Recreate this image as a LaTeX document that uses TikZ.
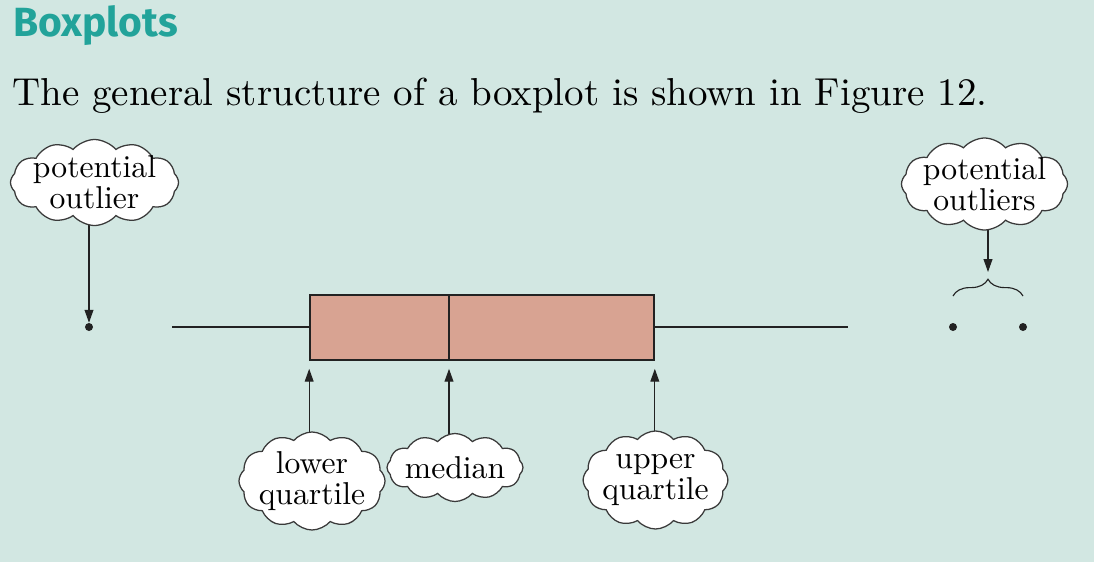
\documentclass[tikz,border=0pt]{standalone}
\usepackage{fontspec}
\setmainfont{lmroman10-regular}[Extension=.otf]
\newfontfamily\titlefont{Fira Sans}
\usetikzlibrary{shapes.symbols,arrows.meta,decorations.pathreplacing}
\definecolor{bgc}{HTML}{D2E7E2}
\definecolor{titlec}{HTML}{22A39A}
\definecolor{boxc}{HTML}{D8A392}
\definecolor{inkc}{HTML}{222222}
\definecolor{cloudline}{HTML}{3A3A3A}
\pgfdeclarelayer{bglayer}
\pgfdeclarelayer{linelayer}
\pgfsetlayers{bglayer,linelayer,main}
\begin{document}
\begin{tikzpicture}[x=0.025cm,y=-0.025cm,
  callout/.style={cloud, cloud puffs=12, cloud puff arc=100, cloud ignores aspect, draw=cloudline, fill=white,
    line width=0.9pt, align=center, inner xsep=-20pt, inner ysep=-5pt,
    font=\fontsize{22.5}{22}\selectfont},
  arr/.style={draw=inkc, line width=0.8pt, -{Triangle[length=0.32cm,width=0.22cm]}},
  whisk/.style={draw=inkc, line width=1.1pt},
  boxst/.style={draw=inkc, fill=boxc, line width=1.1pt, inner sep=0pt},
  dotst/.style={circle, fill=inkc, inner sep=0pt, minimum size=0.2cm}]
\begin{pgfonlayer}{bglayer}
\fill[bgc] (0,0) rectangle (1094,562);
\end{pgfonlayer}
\useasboundingbox (0,0) rectangle (1094,562);
\node[anchor=base west, inner sep=0pt, text=titlec, font=\titlefont\bfseries\fontsize{29}{34}\selectfont] (title) at (13,36) {Boxplots};
\node[anchor=base west, inner sep=0pt, font=\fontsize{27.7}{34}\selectfont] (intro) at (12,105) {The general structure of a boxplot is shown in Figure 12.};
% box
\node[boxst, minimum width=8.6cm, minimum height=1.625cm] (box) at (482,327.5) {};
\coordinate (medx) at (449,327);
\draw[whisk] (box.north -| medx) -- (box.south -| medx);
\coordinate (wl) at (172,327);
\coordinate (wr) at (848,327);
\draw[whisk] (wl) -- (box.west |- wl);
\draw[whisk] (box.east |- wr) -- (wr);
% outliers
\node[dotst] (o1) at (89,327) {};
\node[dotst] (o2) at (953,327) {};
\node[dotst] (o3) at (1023,327) {};
% clouds
\node[callout, minimum width=4.2cm, minimum height=2.15cm] (c1) at (94.5,182.5) {potential\\outlier};
\node[callout, minimum width=4.15cm, minimum height=2.3cm] (c2) at (984.5,184) {potential\\outliers};
\node[callout, minimum width=3.65cm, minimum height=2.45cm] (lq) at (312,481) {lower\\quartile};
\node[callout, minimum width=3.4cm, minimum height=1.7cm] (med) at (455,467.5) {median};
\node[callout, minimum width=3.62cm, minimum height=2.45cm] (uq) at (655.5,480) {upper\\quartile};
% brace
\coordinate (bl) at (953,296);
\coordinate (br) at (1023,296);
\coordinate (btip) at (988,272);
\draw[draw=inkc, line width=0.8pt, decorate, decoration={brace, amplitude=0.42cm}] (bl) -- (br);
% arrows
\begin{pgfonlayer}{linelayer}
\draw[arr] (o1 |- c1.center) -- (o1);
\draw[arr] (btip |- c2.center) -- (btip);
\draw[arr, shorten >=0.2cm] (lq.center -| box.south west) -- (box.south west);
\draw[arr, shorten >=0.2cm] (med.center -| medx) -- (box.south -| medx);
\draw[arr, shorten >=0.2cm] (uq.center -| box.south east) -- (box.south east);
\end{pgfonlayer}
\end{tikzpicture}
\end{document}
